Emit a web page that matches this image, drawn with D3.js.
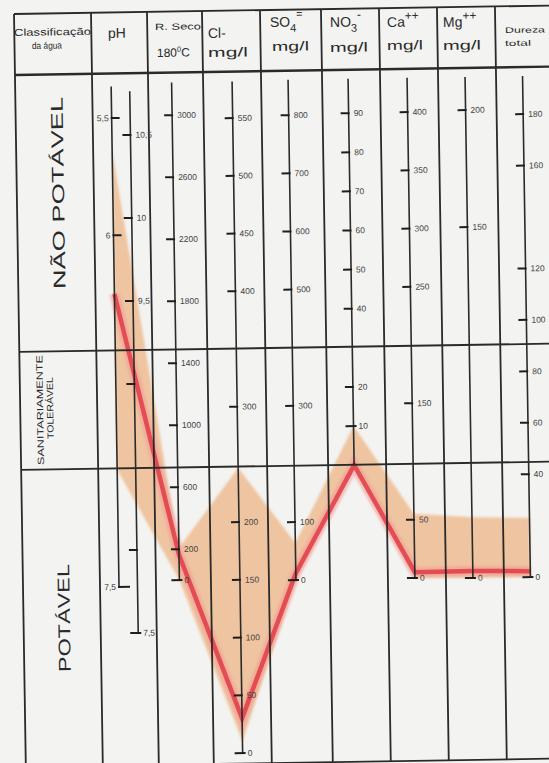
<!DOCTYPE html>
<html>
<head>
<meta charset="utf-8">
<script src="https://cdn.jsdelivr.net/npm/d3@7/dist/d3.min.js"></script>
<style>
  body { margin: 0; background: #f3f3f1; }
  svg { display: block; font-family: "Liberation Sans", Arial, sans-serif; }
</style>
</head>
<body>
<div id="chart-area"></div>
<script>
// tick values
const phAcidTicks = [5.5, 6, 7.5]
const phAcidLabels = ["5,5", "6", "7,5"]
const phBasicTicks = [10.5, 10, 9.5, 9, 8, 7.5]
const phBasicLabels = ["10,5", "10", "9,5", "", "", "7,5"]
const rSecoTicks = [3000, 2600, 2200, 1800, 1400, 1000, 600, 200, 0]
const clTicks = [550, 500, 450, 400, 300, 200, 150, 100, 50, 0]
const so4Ticks = [800, 700, 600, 500, 300, 100, 0]
const no3Ticks = [90, 80, 70, 60, 50, 40, 20, 10]
const caTicks = [400, 350, 300, 250, 150, 50, 0]
const mgTicks = [200, 150, 0]
const durezaTicks = [180, 160, 120, 100, 80, 60, 40, 0]

// plotted sample (red line) and shaded range, one value per column
const parameters = ["pH", "R. Seco", "Cl", "SO4", "NO3", "Ca", "Mg", "Dureza"]
const sampleValues = [6.25, 163, 30, 12, 0, 5, 3, 2.3]
const rangeHigh = [5.64, 208, 247, 64, 10, 55, 26, 23]
const rangeLow = [7.0, 0, 10, 0, 0, 0, 0, 0]

const WIDTH = 549
const HEIGHT = 763
// the scanned sheet is turned a little, everything is drawn on the tilted sheet
const TILT = 0.9
const S = Math.sin(TILT * Math.PI / 180)
const sheet = (X, Y) => [X - 14 - (Y - 14) * S, Y - 14 + (X - 14) * S]

const columnLines = [0, 77, 133, 188, 246, 307, 365, 423, 481]
const rowLines = [0, 61, 338, 456, 753]

const svg = d3.select("#chart-area").append("svg")
  .attr("width", WIDTH)
  .attr("height", HEIGHT)

svg.append("rect")
  .attr("width", WIDTH)
  .attr("height", HEIGHT)
  .attr("fill", "#f3f3f1")

const defs = svg.append("defs")
defs.append("filter").attr("id", "soft")
  .append("feGaussianBlur").attr("stdDeviation", 1.2)

const g = svg.append("g")
  .attr("transform", `translate(14,14) rotate(${-TILT})`)

// scales, one per vertical axis
const axes = [
  { scale: d3.scaleLinear().domain([5.5, 7.5]).range([105.6, 574.6]), u: 96, top: 74, ticks: phAcidTicks, labels: phAcidLabels, left: true },
  { scale: d3.scaleLinear().domain([10.5, 7.5]).range([122.8, 620.8]), u: 114.5, top: 79, ticks: phBasicTicks, labels: phBasicLabels },
  { scale: d3.scaleLinear().domain([3000, 0]).range([103.7, 568.7]), u: 156.5, top: 71, ticks: rSecoTicks },
  { scale: d3.scaleLinear().domain([550, 0]).range([107.5, 742.5]), u: 217, top: 71, ticks: clTicks },
  { scale: d3.scaleLinear().domain([800, 0]).range([105.5, 570.5]), u: 273, top: 70, ticks: so4Ticks },
  { scale: d3.scaleLinear().domain([90, 0]).range([104.4, 456.4]), u: 333, top: 70, ticks: no3Ticks },
  { scale: d3.scaleLinear().domain([400, 0]).range([104.2, 570.2]), u: 392, top: 70, ticks: caTicks },
  { scale: d3.scaleLinear().domain([200, 0]).range([103.1, 571.1]), u: 450, top: 70, ticks: mgTicks },
  { scale: d3.scaleLinear().domain([180, 0]).range([108.1, 571.1]), u: 507.5, top: 70, ticks: durezaTicks }
]
// which axis each plotted parameter sits on
const plotAxes = [axes[0], axes[2], axes[3], axes[4], axes[5], axes[6], axes[7], axes[8]]

// shaded range
const band = d3.area()
  .x((d, i) => plotAxes[i].u)
  .y0((d, i) => plotAxes[i].scale(rangeLow[i]))
  .y1((d, i) => plotAxes[i].scale(rangeHigh[i]))

g.append("path")
  .attr("d", band(parameters))
  .attr("fill", "#efc19a")
  .attr("opacity", 0.92)
  .attr("filter", "url(#soft)")

// sample line
const line = d3.line()
  .x((d, i) => plotAxes[i].u)
  .y((d, i) => plotAxes[i].scale(d))

g.append("path")
  .attr("d", line(sampleValues))
  .attr("fill", "none")
  .attr("stroke", "#f29a98")
  .attr("stroke-width", 10)
  .attr("stroke-linejoin", "miter")
  .attr("opacity", 0.6)
  .attr("filter", "url(#soft)")

g.append("path")
  .attr("d", line(sampleValues))
  .attr("fill", "none")
  .attr("stroke", "#e2444c")
  .attr("stroke-width", 4.5)
  .attr("stroke-linejoin", "miter")
  .attr("opacity", 0.92)

// table grid
g.selectAll(".col-line").data(columnLines).join("line")
  .attr("class", "col-line")
  .attr("x1", d => d).attr("x2", d => d)
  .attr("y1", 0).attr("y2", rowLines[rowLines.length - 1])
  .attr("stroke", "#2a2a2a").attr("stroke-width", 1.8)

g.selectAll(".row-line").data(rowLines).join("line")
  .attr("class", "row-line")
  .attr("x1", columnLines[0]).attr("x2", 580)
  .attr("y1", d => d).attr("y2", d => d)
  .attr("stroke", "#2a2a2a").attr("stroke-width", (d, i) => i === 1 ? 2.4 : 1.8)

// vertical scales with their ticks
axes.forEach(a => {
  const last = a.ticks[a.ticks.length - 1]
  const bottom = a.scale(a.scale.domain()[1])
  const ax = g.append("g").attr("transform", `translate(${a.u},0)`)
  ax.append("line")
    .attr("y1", a.top).attr("y2", bottom)
    .attr("stroke", "#2b2b2b").attr("stroke-width", 1.6)
  ax.selectAll("line.tick").data(a.ticks).join("line")
    .attr("class", "tick")
    .attr("x1", d => a.left ? -1 : -8)
    .attr("x2", d => a.left ? (d === last ? 11 : 8) : (d === last ? 3 : 1))
    .attr("y1", d => a.scale(d)).attr("y2", d => a.scale(d))
    .attr("stroke", "#1e1e1e").attr("stroke-width", 2)
  ax.selectAll("text").data(a.ticks).join("text")
    .attr("x", a.left ? -3 : 5)
    .attr("y", d => a.scale(d))
    .attr("dy", "0.35em")
    .attr("text-anchor", a.left ? "end" : "start")
    .attr("font-size", 8.5)
    .attr("fill", "#444")
    .text((d, i) => a.labels ? a.labels[i] : d)
})

// header texts
function headerText(X, Y, size, parts, len) {
  const [u, v] = sheet(X, Y)
  const t = g.append("text")
    .attr("x", u).attr("y", v)
    .attr("font-size", size)
    .attr("fill", "#2a2a2a")
  if (len) t.attr("textLength", len).attr("lengthAdjust", "spacingAndGlyphs")
  parts.forEach(p => {
    if (typeof p === "string") t.append("tspan").text(p)
    else t.append("tspan").attr("dy", p.dy).attr("font-size", p.size).text(p.t)
  })
}

headerText(14, 36, 10, ["Classificação"], 77)
headerText(32, 49, 9.5, ["da água"], 30)
headerText(108, 38, 14, ["pH"])
headerText(155, 30, 9, ["R. Seco"], 46)
headerText(157, 57, 12, ["180", { t: "0", dy: -5, size: 7.5 }, { t: "C", dy: 5, size: 12 }])
headerText(208, 38, 14, ["Cl-"])
headerText(208, 57, 13, ["mg/l"], 40)
headerText(270, 27, 14, ["SO", { t: "4", dy: 5, size: 11 }, { t: "=", dy: -14, size: 11 }])
headerText(272, 51, 13, ["mg/l"], 37)
headerText(330, 27, 14, ["NO", { t: "3", dy: 5, size: 11 }, { t: "-", dy: -13, size: 12 }])
headerText(330, 52, 13, ["mg/l"], 38)
headerText(387, 27, 14, ["Ca", { t: "++", dy: -7, size: 12 }])
headerText(387, 50, 13, ["mg/l"], 36)
headerText(443, 27, 14, ["Mg", { t: "++", dy: -7, size: 12 }])
headerText(443, 50, 13, ["mg/l"], 38)
headerText(505, 33, 8, ["Dureza"], 40)
headerText(505, 46, 8, ["total"], 26)

// water class labels, written upwards
function sideLabel(X, Y, size, text, len) {
  const [u, v] = sheet(X, Y)
  g.append("text")
    .attr("transform", `translate(${u},${v}) rotate(-90)`)
    .attr("text-anchor", "middle")
    .attr("dy", "0.35em")
    .attr("font-size", size)
    .attr("fill", "#2a2a2a")
    .attr("textLength", len)
    .attr("lengthAdjust", "spacingAndGlyphs")
    .text(text)
}

sideLabel(58, 193, 17, "NÃO  POTÁVEL", 192)
sideLabel(40, 410, 9, "SANITARIAMENTE", 110)
sideLabel(50, 408, 9, "TOLERÁVEL", 62)
sideLabel(64, 618, 17, "POTÁVEL", 108)
</script>
</body>
</html>
